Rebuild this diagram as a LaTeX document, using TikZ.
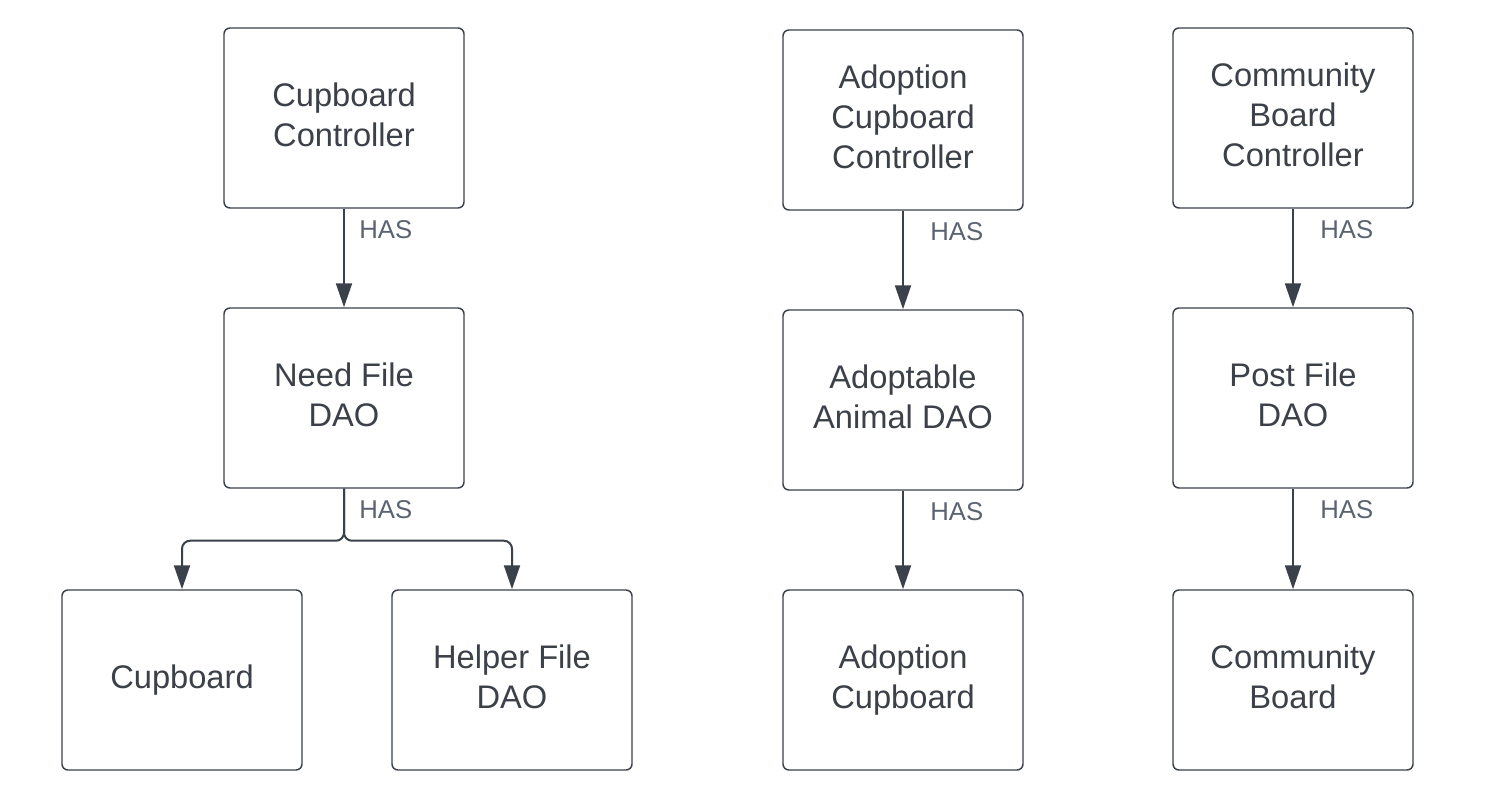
\documentclass[tikz,border=0pt]{standalone}
\usepackage{fontspec}
\setmainfont{Liberation Sans}
\usetikzlibrary{arrows.meta}
\definecolor{edge}{HTML}{3A414A}
\definecolor{txt}{HTML}{3C4149}
\definecolor{lbl}{HTML}{5B6370}
\tikzset{
  box/.style={draw=edge, line width=1.1pt, rounded corners=4.5pt, fill=white,
    minimum width=180pt, minimum height=135pt, align=center, text=txt,
    font=\fontsize{24.5}{30}\selectfont, inner sep=0pt,
    execute at begin node={\vphantom{d}}, execute at end node={\vphantom{p}}},
  conn/.style={draw=edge, line width=1.5pt, -{Triangle[width=12pt,length=18pt]}},
  haslbl/.style={anchor=west, text=lbl, font=\fontsize{19.3}{22}\selectfont, inner sep=0pt}
}
\begin{document}
\begin{tikzpicture}[x=0.75pt,y=-0.75pt]
\useasboundingbox (0,0) rectangle (1486,802);
% column 1
\node[box] (cc) at (344,118) {Cupboard\\Controller};
\node[box] (nfd) at (344,398) {Need File\\DAO};
\node[box] (cup) at (182,680) {Cupboard};
\node[box] (hfd) at (512,680) {Helper File\\DAO};
% column 2
\node[box] (acc) at (903,120) {Adoption\\Cupboard\\Controller};
\node[box] (aad) at (903,400) {Adoptable\\Animal DAO};
\node[box] (ac) at (903,680) {Adoption\\Cupboard};
% column 3
\node[box] (cbc) at (1293,118) {Community\\Board\\Controller};
\node[box] (pfd) at (1293,398) {Post File\\DAO};
\node[box] (cb) at (1293,680) {Community\\Board};
% connectors
\draw[conn] (cc) -- (nfd);
\draw[conn, rounded corners=6pt] (nfd.south) -- ++(0,52) -| (cup.north);
\draw[conn, rounded corners=6pt] (nfd.south) -- ++(0,52) -| (hfd.north);
\draw[conn] (acc) -- (aad);
\draw[conn] (aad) -- (ac);
\draw[conn] (cbc) -- (pfd);
\draw[conn] (pfd) -- (cb);
% labels
\node[haslbl] (l1) at (359,230) {HAS};
\node[haslbl] (l2) at (359,510) {HAS};
\node[haslbl] (l3) at (930,232) {HAS};
\node[haslbl] (l4) at (930,512) {HAS};
\node[haslbl] (l5) at (1320,230) {HAS};
\node[haslbl] (l6) at (1320,510) {HAS};
\end{tikzpicture}
\end{document}
